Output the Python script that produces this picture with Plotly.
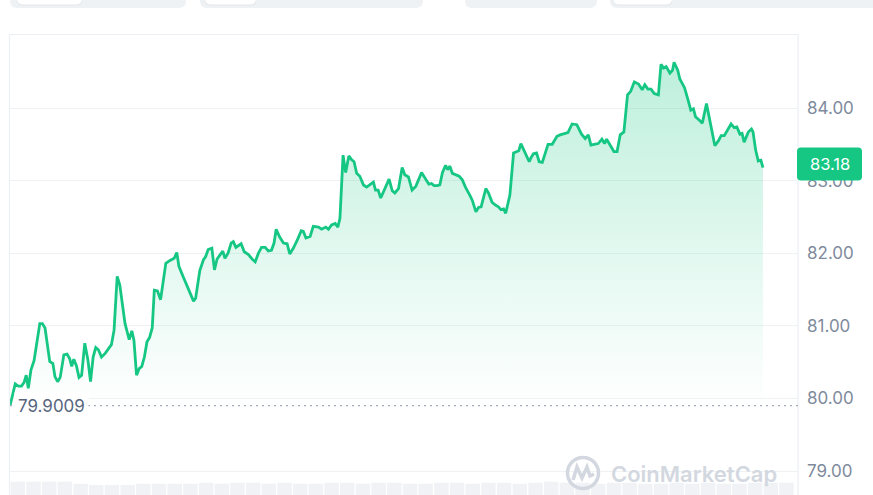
import plotly.graph_objects as go

# ---------------- data ----------------
minutes = [0, 10, 16, 22, 27, 31, 35, 40, 46, 57,
           62, 67, 76, 82, 86, 91, 96, 103, 109, 114,
           118, 122, 127, 132, 137, 143, 149, 154, 159, 164,
           169, 175, 182, 188, 194, 199, 205, 210, 215, 220,
           228, 233, 237, 242, 247, 252, 257, 262, 267, 272,
           276, 282, 288, 298, 306, 314, 319, 323, 331, 341,
           347, 351, 355, 363, 370, 374, 379, 386, 391, 396,
           402, 407, 411, 417, 423, 427, 432, 437, 442, 448,
           456, 463, 469, 475, 481, 488, 494, 500, 505, 509,
           516, 523, 530, 535, 542, 550, 557, 561, 566, 574,
           580, 590, 596, 604, 609, 615, 622, 627, 631, 637,
           642, 648, 653, 658, 663, 669, 676, 682, 688, 695,
           699, 704, 709, 717, 725, 731, 736, 743, 750, 755,
           762, 769, 776, 787, 795, 801, 806, 811, 817, 822,
           827, 833, 837, 841, 846, 854, 859, 865, 871, 880,
           884, 891, 896, 901, 910, 915, 922, 929, 934, 939,
           944, 948, 956, 963, 969, 973, 977, 985, 993, 996,
           1001, 1007, 1012, 1018, 1024, 1029, 1037, 1046, 1052, 1056,
           1060, 1067, 1075, 1084, 1093, 1100, 1106, 1111, 1117, 1125,
           1132, 1137, 1141, 1148, 1155, 1161, 1167, 1174, 1181, 1187,
           1194, 1202, 1209, 1214, 1220, 1226, 1232, 1240, 1245, 1250,
           1255, 1262, 1267, 1270, 1277, 1281, 1290, 1296, 1302, 1307,
           1311, 1320, 1324, 1332, 1339, 1343, 1348, 1355, 1360, 1366,
           1373, 1379, 1385, 1390, 1396, 1400, 1404, 1412, 1418, 1421,
           1426, 1431, 1436, 1440]

prices = [79.90, 80.20, 80.17, 80.17, 80.22, 80.32, 80.14, 80.39, 80.52, 81.03,
          81.03, 80.97, 80.51, 80.48, 80.30, 80.23, 80.29, 80.60, 80.61, 80.55,
          80.44, 80.54, 80.45, 80.29, 80.32, 80.76, 80.53, 80.23, 80.57, 80.70,
          80.67, 80.57, 80.62, 80.68, 80.74, 80.94, 81.68, 81.56, 81.31, 81.03,
          80.81, 80.93, 80.80, 80.32, 80.41, 80.44, 80.57, 80.78, 80.84, 80.97,
          81.49, 81.48, 81.36, 81.86, 81.90, 81.93, 82.01, 81.82, 81.68, 81.52,
          81.40, 81.34, 81.38, 81.76, 81.91, 81.95, 82.05, 82.07, 81.77, 81.92,
          81.98, 82.03, 81.93, 82.00, 82.14, 82.16, 82.08, 82.10, 82.13, 82.02,
          81.98, 81.92, 81.88, 82.00, 82.08, 82.08, 82.03, 82.04, 82.14, 82.33,
          82.22, 82.14, 82.13, 81.99, 82.07, 82.19, 82.31, 82.30, 82.21, 82.23,
          82.37, 82.36, 82.33, 82.36, 82.33, 82.39, 82.41, 82.36, 82.48, 83.35,
          83.11, 83.34, 83.29, 83.26, 83.10, 83.06, 82.94, 82.91, 82.94, 82.98,
          82.87, 82.87, 82.76, 82.88, 83.02, 82.86, 82.83, 82.89, 83.18, 83.08,
          83.05, 82.87, 82.92, 83.11, 83.02, 82.95, 82.96, 82.93, 82.93, 82.94,
          83.11, 83.21, 83.15, 83.20, 83.10, 83.08, 83.06, 83.01, 82.91, 82.79,
          82.73, 82.57, 82.63, 82.64, 82.89, 82.83, 82.70, 82.66, 82.64, 82.60,
          82.61, 82.55, 82.80, 83.38, 83.40, 83.41, 83.51, 83.38, 83.26, 83.31,
          83.37, 83.38, 83.26, 83.25, 83.38, 83.50, 83.50, 83.61, 83.63, 83.64,
          83.64, 83.66, 83.78, 83.77, 83.64, 83.58, 83.63, 83.49, 83.50, 83.51,
          83.57, 83.51, 83.57, 83.49, 83.40, 83.40, 83.63, 83.67, 84.18, 84.23,
          84.36, 84.33, 84.25, 84.32, 84.26, 84.26, 84.20, 84.18, 84.60, 84.55,
          84.57, 84.48, 84.52, 84.63, 84.52, 84.40, 84.28, 84.13, 83.97, 83.99,
          83.88, 83.82, 83.79, 84.06, 83.79, 83.67, 83.48, 83.55, 83.62, 83.62,
          83.71, 83.78, 83.73, 83.74, 83.64, 83.65, 83.53, 83.67, 83.71, 83.67,
          83.42, 83.27, 83.28, 83.18]

open_price = 79.9009
last_price_label = "83.18"

# volume (30-minute buckets, relative units)
volume_minutes = [15 + 30 * i for i in range(50)]
volume = [13, 13, 13, 13, 11, 10, 10, 10, 11, 11,
          11, 11, 12, 11, 12, 12, 11, 12, 11, 11,
          12, 12, 11, 12, 12, 11, 11, 12, 12, 11,
          12, 12, 11, 12, 13, 12, 12, 11, 12, 12,
          11, 11, 12, 11, 12, 11, 11, 12, 12, 12]

y_tick_values = [79, 80, 81, 82, 83, 84]
y_tick_labels = ["79.00", "80.00", "81.00", "82.00", "83.00", "84.00"]

# ---------------- figure ----------------
W, H = 873, 495
GREEN = "#16c784"
PX_PER_UNIT = 72.6
Y_TOP = 84 + 108 / PX_PER_UNIT
Y_BOT = Y_TOP - H / PX_PER_UNIT


def X(px):
    return px / W


def Y(py):
    return 1 - py / H


fig = go.Figure()

fig.add_trace(go.Bar(
    x=volume_minutes, y=volume, xaxis="x", yaxis="y2",
    marker=dict(color="#f0f2f5", line=dict(width=0)),
    hoverinfo="skip", showlegend=False))

fig.add_trace(go.Scatter(
    x=minutes, y=[open_price] * len(minutes), mode="lines",
    line=dict(width=0, color="rgba(0,0,0,0)"), hoverinfo="skip",
    showlegend=False))

fig.add_trace(go.Scatter(
    x=minutes, y=prices, mode="lines",
    line=dict(color=GREEN, width=2.8),
    fill="tonexty",
    fillgradient=dict(type="vertical",
                      colorscale=[[0, "rgba(22,199,132,0.0)"],
                                  [1, "rgba(22,199,132,0.28)"]]),
    showlegend=False))


def rr_bottom(x0, x1, yt, yb, r):
    return (f"M {X(x0)},{Y(yt)} L {X(x0)},{Y(yb - r)} "
            f"Q {X(x0)},{Y(yb)} {X(x0 + r)},{Y(yb)} "
            f"L {X(x1 - r)},{Y(yb)} Q {X(x1)},{Y(yb)} {X(x1)},{Y(yb - r)} "
            f"L {X(x1)},{Y(yt)} Z")


shapes = []
# top tab bar (UI chrome)
for (a, b) in [(10, 186), (200, 423), (465, 597), (610, 880)]:
    shapes.append(dict(type="path", xref="paper", yref="paper",
                       path=rr_bottom(a, b, -10, 8, 7),
                       fillcolor="#eff2f5", line=dict(width=0), layer="below"))
for (a, b) in [(17, 82), (205, 256), (613, 672)]:
    shapes.append(dict(type="path", xref="paper", yref="paper",
                       path=rr_bottom(a - 0.5, b + 0.5, -10, 5.5, 6),
                       fillcolor="#e2e6eb", line=dict(width=0), layer="below"))
    shapes.append(dict(type="path", xref="paper", yref="paper",
                       path=rr_bottom(a, b, -10, 4.5, 6),
                       fillcolor="#ffffff", line=dict(width=0), layer="below"))

# chart card borders
BORDER = "#eceff3"
shapes += [
    dict(type="line", xref="paper", yref="paper", x0=X(9.5), x1=X(798),
         y0=Y(34.5), y1=Y(34.5), line=dict(color=BORDER, width=1.2)),
    dict(type="line", xref="paper", yref="paper", x0=X(9.5), x1=X(9.5),
         y0=Y(34.5), y1=Y(500), line=dict(color=BORDER, width=1.2)),
    dict(type="line", xref="paper", yref="paper", x0=X(798), x1=X(798),
         y0=Y(34.5), y1=Y(500), line=dict(color=BORDER, width=1.2)),
]

# dotted open-price line
shapes.append(dict(type="line", xref="paper", yref="y", x0=X(10), x1=X(798),
                   y0=open_price, y1=open_price,
                   line=dict(color="#a3abba", width=1.2, dash="2px,4px"),
                   layer="above"))

# last-price badge
last = prices[-1]
bc = last + 3.5 / PX_PER_UNIT
hh = 16.5 / PX_PER_UNIT
rr = 4 / PX_PER_UNIT
bx0, bx1, rpx = 797, 862, 4
badge = (f"M {X(bx0 + rpx)},{bc + hh} L {X(bx1 - rpx)},{bc + hh} "
         f"Q {X(bx1)},{bc + hh} {X(bx1)},{bc + hh - rr} "
         f"L {X(bx1)},{bc - hh + rr} Q {X(bx1)},{bc - hh} {X(bx1 - rpx)},{bc - hh} "
         f"L {X(bx0 + rpx)},{bc - hh} Q {X(bx0)},{bc - hh} {X(bx0)},{bc - hh + rr} "
         f"L {X(bx0)},{bc + hh - rr} Q {X(bx0)},{bc + hh} {X(bx0 + rpx)},{bc + hh} Z")
shapes.append(dict(type="path", xref="paper", yref="y", path=badge,
                   fillcolor=GREEN, line=dict(width=0), layer="above"))

# watermark logo
WM = "#d3d8e0"
shapes.append(dict(type="circle", xref="paper", yref="paper",
                   x0=X(567.5), x1=X(598.5), y0=Y(488.5), y1=Y(457.5),
                   line=dict(color=WM, width=3.5), layer="above"))
logo_pts = [(573, 480), (577, 467), (582, 478), (587, 467), (590, 476), (594, 474)]
logo_path = "M " + " L ".join(f"{X(a)},{Y(b)}" for a, b in logo_pts)
shapes.append(dict(type="path", xref="paper", yref="paper", path=logo_path,
                   line=dict(color=WM, width=3.5), layer="above"))

annotations = [
    dict(text="79.9009", xref="paper", yref="y", x=X(14), y=open_price,
         xanchor="left", yanchor="middle", showarrow=False,
         bgcolor="#ffffff", borderpad=3,
         font=dict(size=17, color="#58667e", family="Inter, sans-serif")),
    dict(text=last_price_label, xref="paper", yref="y", x=X(829.5), y=bc,
         xanchor="center", yanchor="middle", showarrow=False,
         font=dict(size=16.5, color="#ffffff", family="Inter, sans-serif")),
    dict(text="CoinMarketCap", xref="paper", yref="paper", x=X(693.5), y=Y(474),
         xanchor="center", yanchor="middle", showarrow=False,
         font=dict(size=22, color=WM, family="Inter, sans-serif", weight=600)),
]

fig.update_layout(
    width=W, height=H,
    margin=dict(l=0, r=0, t=0, b=0),
    paper_bgcolor="#ffffff", plot_bgcolor="rgba(0,0,0,0)",
    showlegend=False, bargap=0.08,
    font=dict(family="Inter, sans-serif"),
    xaxis=dict(domain=[X(10), X(798)], range=[0, 1507], visible=False,
               fixedrange=True),
    yaxis=dict(domain=[0, 1], range=[Y_BOT, Y_TOP], side="right", anchor="x",
               tickvals=y_tick_values, ticktext=y_tick_labels,
               showgrid=True, gridcolor="#eff2f5", gridwidth=1,
               zeroline=False, showline=False, ticks="",
               ticklabelstandoff=8, fixedrange=True,
               tickfont=dict(size=17, color="#808a9d", family="Inter, sans-serif")),
    yaxis2=dict(domain=[0, 0.045], range=[0, 22], visible=False, anchor="x"),
    shapes=shapes,
    annotations=annotations,
)

fig.write_html(
    "out.html",
    config={"displayModeBar": False},
    post_script="document.body.style.margin='0px';document.body.style.overflow='hidden';",
)
